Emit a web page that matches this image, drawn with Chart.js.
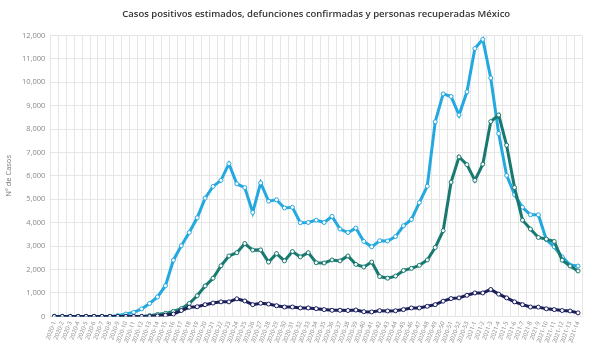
<!DOCTYPE html>
<html>
<head>
<meta charset="utf-8">
<script src="https://cdn.jsdelivr.net/npm/chart.js@4/dist/chart.umd.min.js"></script>
<style>
  html, body { margin: 0; padding: 0; background: #ffffff; }
  #wrap { width: 589px; height: 348px; position: relative; }
</style>
</head>
<body>
<div id="wrap"><canvas id="chart"></canvas></div>
<script>
// Semanas epidemiológicas (año-semana)
const weeks = [
  '2020-1','2020-2','2020-3','2020-4','2020-5','2020-6','2020-7','2020-8','2020-9','2020-10',
  '2020-11','2020-12','2020-13','2020-14','2020-15','2020-16','2020-17','2020-18','2020-19','2020-20',
  '2020-21','2020-22','2020-23','2020-24','2020-25','2020-26','2020-27','2020-28','2020-29','2020-30',
  '2020-31','2020-32','2020-33','2020-34','2020-35','2020-36','2020-37','2020-38','2020-39','2020-40',
  '2020-41','2020-42','2020-43','2020-44','2020-45','2020-46','2020-47','2020-48','2020-49','2020-50',
  '2020-51','2020-52','2020-53','2021-1','2021-2','2021-3','2021-4','2021-5','2021-6','2021-7',
  '2021-8','2021-9','2021-10','2021-11','2021-12','2021-13','2021-14'
];

// Casos positivos estimados por semana
const casosPositivos = [
  0, 0, 0, 0, 0, 0, 0, 0, 30, 100,
  170, 320, 550, 830, 1310, 2400, 3020, 3580, 4210, 5050,
  5550, 5810, 6520, 5660, 5500, 4440, 5700, 4920, 4980, 4630,
  4660, 4000, 4010, 4110, 4010, 4270, 3730, 3580, 3770, 3200,
  2970, 3230, 3220, 3410, 3870, 4140, 4860, 5560, 8310, 9500,
  9390, 8600, 9590, 11440, 11830, 10180, 7810, 6020, 5200, 4660,
  4340, 4340, 3280, 2970, 2540, 2190, 2150
];

// Personas recuperadas por semana
const recuperados = [
  0, 0, 0, 0, 0, 0, 0, 0, 0, 0,
  0, 0, 30, 80, 130, 210, 330, 550, 880, 1300,
  1630, 2160, 2580, 2720, 3110, 2830, 2840, 2320, 2680, 2370,
  2770, 2540, 2720, 2290, 2280, 2410, 2370, 2580, 2220, 2110,
  2320, 1700, 1630, 1720, 1960, 2050, 2180, 2410, 2940, 3660,
  5730, 6810, 6480, 5810, 6500, 8320, 8600, 7310, 5500, 4110,
  3730, 3370, 3300, 3200, 2400, 2150, 1940
];

// Defunciones confirmadas por semana
const defunciones = [
  0, 0, 0, 0, 0, 0, 0, 0, 0, 0,
  0, 0, 0, 20, 50, 100, 250, 390, 410, 500,
  570, 620, 620, 750, 660, 500, 560, 525, 455, 400,
  400, 360, 360, 330, 290, 260, 260, 250, 270, 200,
  190, 245, 230, 240, 290, 360, 360, 430, 500, 650,
  760, 790, 900, 1000, 1000, 1150, 950, 790, 620, 500,
  400, 395, 325, 290, 250, 230, 150
];

const yTicks = [0, 1000, 2000, 3000, 4000, 5000, 6000, 7000, 8000, 9000, 10000, 11000, 12000];

const FONT = "'Open Sans', 'DejaVu Sans', sans-serif";

function serie(label, data, color) {
  return {
    label: label,
    data: data,
    borderColor: color,
    backgroundColor: color,
    borderWidth: 3,
    pointRadius: 2,
    pointBorderWidth: 1,
    pointBackgroundColor: '#ffffff',
    pointBorderColor: color,
    tension: 0,
    fill: false
  };
}

new Chart(document.getElementById('chart'), {
  type: 'line',
  data: {
    labels: weeks,
    datasets: [
      serie('Defunciones confirmadas', defunciones, '#1a1f5c'),
      serie('Personas recuperadas', recuperados, '#17796f'),
      serie('Casos positivos estimados', casosPositivos, '#23a8df')
    ]
  },
  options: {
    responsive: true,
    maintainAspectRatio: false,
    animation: false,
    layout: { padding: { left: 4, right: 7, top: 2, bottom: 0 } },
    plugins: {
      legend: { display: false },
      tooltip: { enabled: false },
      title: {
        display: true,
        fullSize: false,
        text: 'Casos positivos estimados, defunciones confirmadas y personas recuperadas México',
        color: '#333333',
        font: { family: FONT, size: 9.5, weight: '600' },
        padding: { top: 7, bottom: 15 }
      }
    },
    scales: {
      x: {
        offset: true,
        grid: { color: '#e6e6e6', offset: true, drawTicks: false },
        border: { display: false },
        ticks: {
          autoSkip: false,
          maxRotation: 70,
          minRotation: 70,
          color: '#888888',
          padding: 4,
          font: { family: FONT, size: 6 }
        }
      },
      y: {
        min: 0,
        max: 12000,
        afterBuildTicks: (axis) => { axis.ticks = yTicks.map(v => ({ value: v })); },
        grid: { color: '#e6e6e6', drawTicks: false },
        border: { display: false },
        title: {
          display: true,
          text: 'Nº de Casos',
          color: '#777777',
          font: { family: FONT, size: 7.5 },
          padding: { top: 0, bottom: 4 }
        },
        ticks: {
          color: '#888888',
          padding: 5,
          font: { family: FONT, size: 7.5 },
          callback: (v) => v.toLocaleString('en-US')
        }
      }
    }
  }
});
</script>
</body>
</html>
